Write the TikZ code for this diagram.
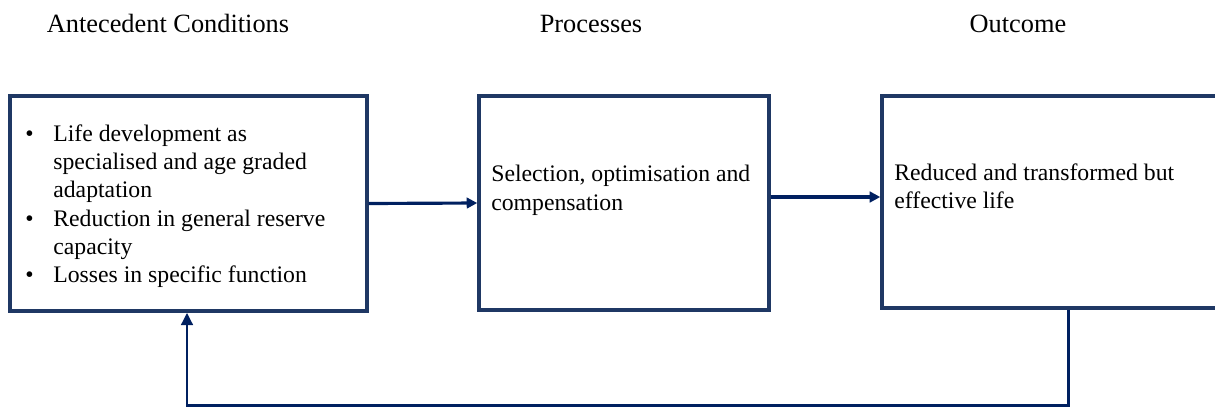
\documentclass[tikz,border=0pt]{standalone}
\usepackage{fontspec}
\setmainfont{Liberation Serif}
\usetikzlibrary{arrows.meta}

\definecolor{boxblue}{RGB}{31,56,100}
\definecolor{linkblue}{RGB}{0,32,96}

\begin{document}
\begin{tikzpicture}[x=0.02cm,y=-0.02cm,
  box/.style={draw=boxblue,line width=2pt,inner sep=0pt},
  link/.style={draw=linkblue,line width=1.8pt,-{Triangle[length=6pt,width=6pt]}},
  loop/.style={draw=linkblue,line width=1.7pt,-{Triangle[length=7pt,width=6.5pt]}},
  head/.style={font=\fontsize{15}{18}\selectfont,anchor=base},
  body/.style={font=\fontsize{13.5}{16}\selectfont,align=left,anchor=base west,inner sep=0pt}]
\useasboundingbox (0,0) rectangle (1215,407);

% headings
\node[head] (h1) at (168,32) {Antecedent Conditions};
\node[head] (h2) at (591,32) {Processes};
\node[head] (h3) at (1018,32) {Outcome};

% boxes
\node[box,minimum width=7.14cm,minimum height=4.3cm] (ante) at (188.5,203.5) {};
\node[box,minimum width=5.8cm,minimum height=4.28cm] (proc) at (624,203) {};
\node[box,minimum width=6.96cm,minimum height=4.24cm] (out) at (1056,202) {};

% texts (base = last line)
\node[body] (t1) at (25,141.7) {%
  \begin{tabular}[t]{@{}p{0.56cm}@{}l@{}}
  \textbullet & Life development as\\
              & specialised and age graded\\
              & adaptation\\
  \textbullet & Reduction in general reserve\\
              & capacity\\
  \textbullet & Losses in specific function
  \end{tabular}};
\node[body] (t2) at (491,210) {Selection, optimisation and\\compensation};
\node[body] (t3) at (894,208.3) {Reduced and transformed but\\effective life};

% connectors
\coordinate (fbR) at (1068,405);
\coordinate (fbL) at (187,405);
\draw[link] (ante.east) -- (proc.west);
\draw[link] ([yshift=0.12cm]proc.east) -- ([yshift=0.12cm]proc.east -| out.west);
\draw[loop] (out.south -| fbR) -- (fbR) -- (fbL) -- (ante.south -| fbL);
\end{tikzpicture}
\end{document}
